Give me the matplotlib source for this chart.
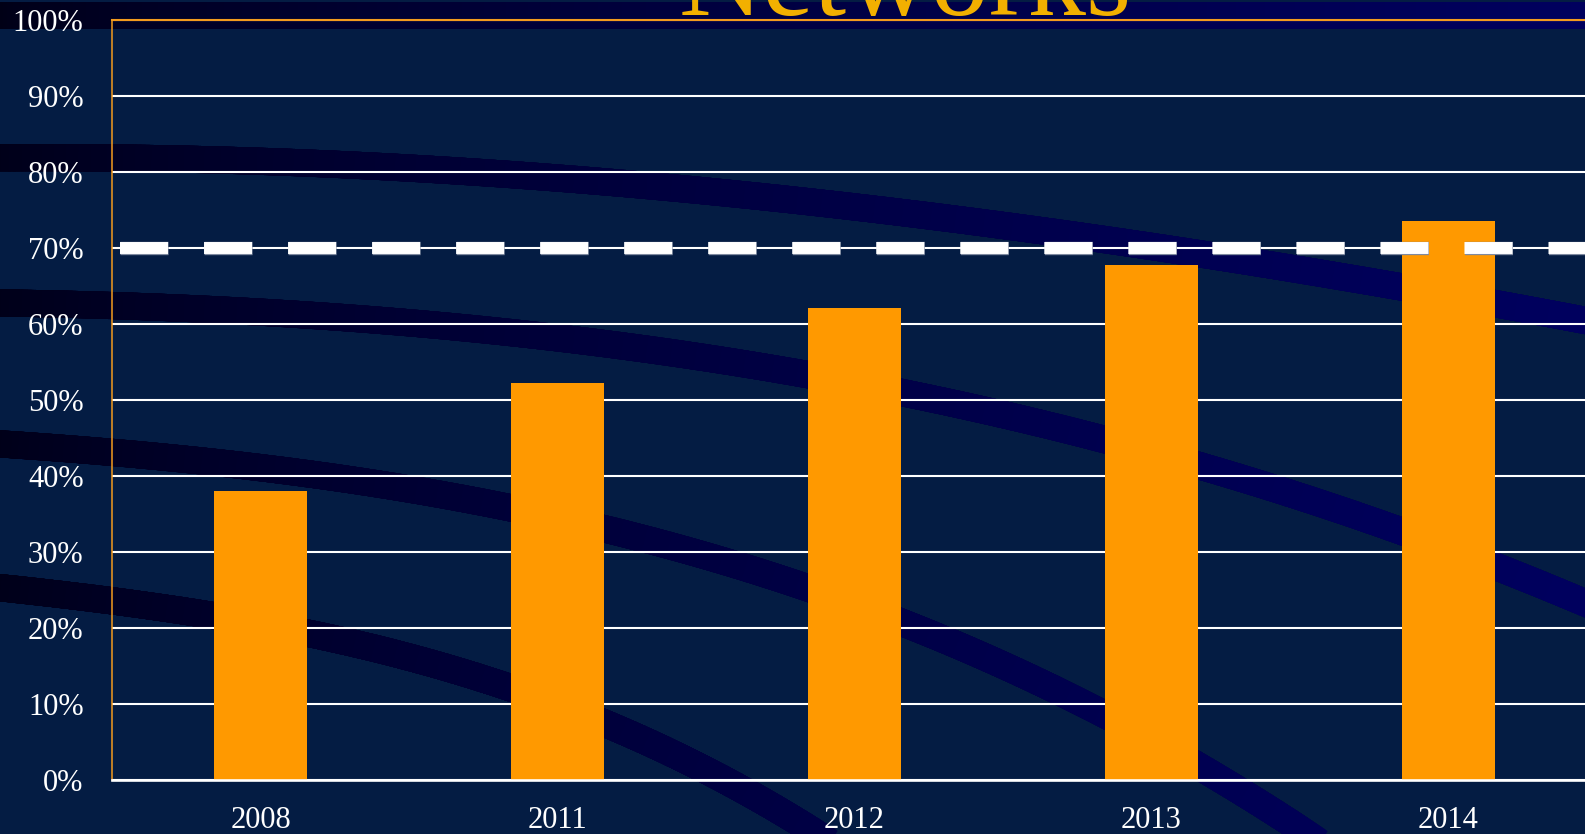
import numpy as np
import matplotlib
matplotlib.use("Agg")
import matplotlib.pyplot as plt
from matplotlib.collections import LineCollection
from matplotlib.ticker import FuncFormatter
import matplotlib.patheffects as pe

# ---- data ----
years = ['2008', '2011', '2012', '2013', '2014']
share = [38.0, 52.2, 62.1, 67.8, 73.6]
target = 70
yticks = list(range(0, 101, 10))
title = 'Networks'

W, H, DPI = 1585, 834, 100
BG = '#041C43'
ORANGE_BAR = '#FF9900'
SPINE_ORANGE = '#F39A1E'
GOLD = '#F2B000'
SERIF = ['Liberation Serif', 'DejaVu Serif']

fig = plt.figure(figsize=(W / DPI, H / DPI), dpi=DPI, facecolor=BG)

# ---- decorative background (pixel space) ----
bg = fig.add_axes([0, 0, 1, 1], zorder=0)
bg.set_xlim(0, W)
bg.set_ylim(H, 0)
bg.axis('off')
bg.set_facecolor(BG)

def shade(x):
    b = 0.09 + 0.28 * np.clip(x / W, 0, 1) ** 0.7
    return np.column_stack([np.zeros_like(x), np.zeros_like(x), b, np.ones_like(x)])

# dark band at the top
grad = np.linspace(0, 1, 256)[None, :]
band_cols = shade(grad[0] * W)[None, :, :]
bg.imshow(band_cols, extent=[0, W, 29, 2], aspect='auto', zorder=1, interpolation='bilinear')

swoosh_guides = [
    ([0, 400, 800, 1100, 1400, 1600], [158, 167, 201, 240, 285, 324]),
    ([0, 400, 700, 960, 1100, 1400, 1600], [303, 322, 356, 406, 439, 529, 610]),
    ([0, 204, 408, 612, 800, 1000, 1100, 1200, 1300, 1360], [445, 459, 488, 534, 586, 660, 714, 766, 830, 870]),
    ([0, 204, 408, 612, 765, 840], [588, 613, 658, 727, 800, 850]),
]
for gx, gy in swoosh_guides:
    gx = np.array(gx, float); gy = np.array(gy, float)
    coef = np.polyfit(gx, gy, 3)
    xs = np.linspace(gx[0] - 10, gx[-1] + 10, 400)
    ys = np.polyval(coef, xs)
    pts = np.column_stack([xs, ys]).reshape(-1, 1, 2)
    segs = np.concatenate([pts[:-1], pts[1:]], axis=1)
    lc = LineCollection(segs, colors=shade(xs[:-1]), linewidths=19.5, capstyle='projecting', zorder=2)
    bg.add_collection(lc)

# ---- main chart ----
left = 112 / W
bottom = 1 - 780 / H
height = (780 - 20) / H
width = 1485 / W
ax = fig.add_axes([left, bottom, width, height], zorder=1)
ax.set_facecolor('none')

x = np.arange(len(years))
ax.bar(x, share, width=0.314, color=ORANGE_BAR, edgecolor='none', zorder=2)

ax.set_xlim(-0.5, len(years) - 0.5)
ax.set_ylim(0, 100)
ax.set_yticks(yticks)
ax.yaxis.set_major_formatter(FuncFormatter(lambda v, p: f'{int(v)}%'))
ax.set_xticks(x)
ax.set_xticklabels(years)
ax.set_axisbelow(True)
ax.yaxis.grid(True, color='white', linewidth=1.5)
ax.xaxis.grid(False)

ax.tick_params(axis='y', length=0, pad=20.5, labelsize=22, labelcolor='white')
ax.tick_params(axis='x', length=0, pad=19, labelsize=22, labelcolor='white')
for lab in ax.get_xticklabels() + ax.get_yticklabels():
    lab.set_family(SERIF)

ax.spines['left'].set_color(SPINE_ORANGE)
ax.spines['left'].set_linewidth(1.1)
ax.spines['top'].set_color(SPINE_ORANGE)
ax.spines['top'].set_linewidth(1.5)
ax.spines['bottom'].set_color('white')
ax.spines['bottom'].set_linewidth(1.9)
ax.spines['right'].set_visible(False)

ax.axhline(target, xmin=8 / 1485, xmax=1, color='white', linewidth=8.6,
           linestyle=(0, (4.02, 3.015)), dash_capstyle='butt', zorder=4,
           path_effects=[pe.Stroke(linewidth=9.6, foreground='#7f8aa0'), pe.Normal()])

fig.text(905 / W, 1 - 15 / H, title, ha='center', va='baseline', fontsize=84,
         family=SERIF, color=GOLD, zorder=5)

fig.savefig('out.png', dpi=DPI, facecolor=BG)
